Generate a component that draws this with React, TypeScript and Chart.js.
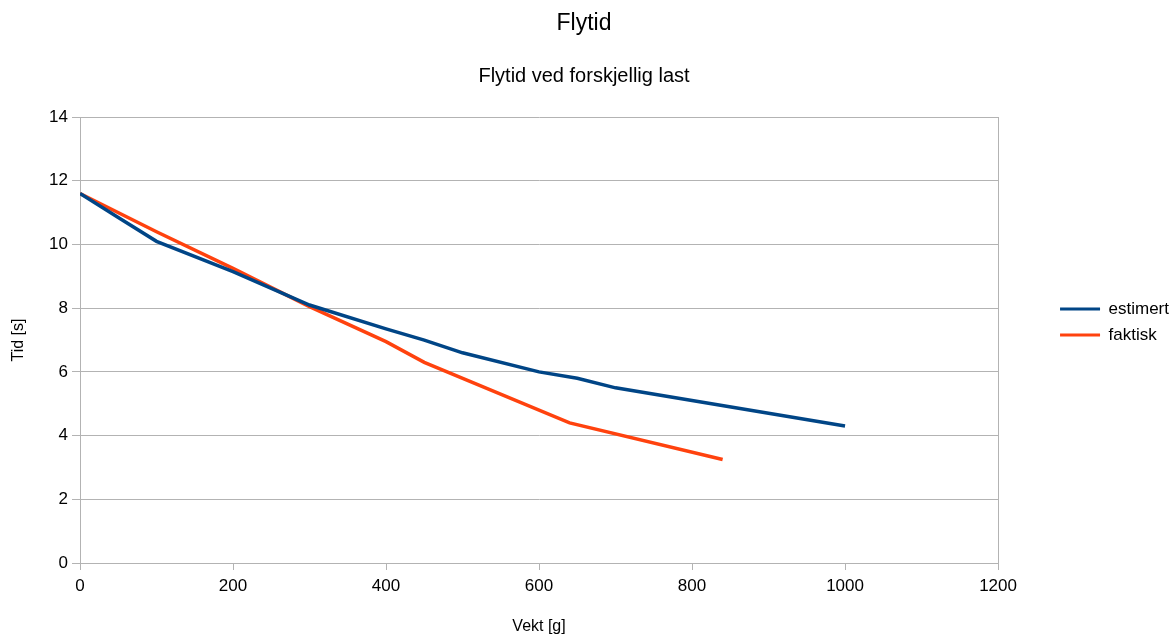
import React, { useEffect, useRef } from 'react';
import { Chart, registerables } from 'chart.js';

Chart.register(...registerables);

const estimertX = [0, 50, 100, 200, 300, 400, 450, 500, 600, 650, 700, 800, 1000];
const estimertY = [11.6, 10.85, 10.1, 9.15, 8.1, 7.35, 7.0, 6.6, 6.0, 5.8, 5.5, 5.1, 4.3];

const faktiskX = [0, 100, 200, 300, 400, 450, 640, 840];
const faktiskY = [11.6, 10.4, 9.25, 8.05, 6.95, 6.3, 4.4, 3.25];

const seriesLabels = ['estimert', 'faktisk'];
const titleText = 'Flytid';
const subtitleText = 'Flytid ved forskjellig last';
const xTitle = 'Vekt [g]';
const yTitle = 'Tid [s]';

const BLUE = '#004586';
const ORANGE = '#ff420e';
const GRID = '#b3b3b3';
const TEXT = '#000000';
const FAMILY = "'Liberation Sans', Arial, sans-serif";

export default function App() {
  const ref = useRef<HTMLCanvasElement>(null);

  useEffect(() => {
    if (!ref.current) return;
    Chart.defaults.font.family = FAMILY;
    const chart = new Chart(ref.current, {
      type: 'line',
      data: {
        datasets: [
          {
            label: seriesLabels[0],
            data: estimertX.map((x, i) => ({ x, y: estimertY[i] })),
            borderColor: BLUE,
            backgroundColor: BLUE,
            borderWidth: 3.5,
            pointRadius: 0,
            tension: 0,
          },
          {
            label: seriesLabels[1],
            data: faktiskX.map((x, i) => ({ x, y: faktiskY[i] })),
            borderColor: ORANGE,
            backgroundColor: ORANGE,
            borderWidth: 3.5,
            pointRadius: 0,
            tension: 0,
          },
        ],
      },
      options: {
        animation: false,
        responsive: true,
        maintainAspectRatio: false,
        layout: { padding: { left: -11, right: -4 } },
        plugins: {
          title: {
            display: true,
            text: titleText,
            color: TEXT,
            font: { family: FAMILY, size: 23, weight: 'normal' },
            padding: { top: 10, bottom: 0 },
          },
          subtitle: {
            display: true,
            text: subtitleText,
            color: TEXT,
            font: { family: FAMILY, size: 20, weight: 'normal' },
            padding: { top: 27, bottom: 28.5 },
          },
          legend: {
            position: 'right',
            align: 'center',
            title: {
              display: true,
              text: '',
              padding: 0,
              font: { family: FAMILY, size: 10, lineHeight: 1 },
            },
            labels: {
              boxWidth: 40,
              boxHeight: 3,
              padding: 9,
              color: TEXT,
              font: { family: FAMILY, size: 17 },
              generateLabels: (c: any) =>
                (Chart.defaults.plugins.legend.labels as any)
                  .generateLabels(c)
                  .map((l: any) => ({ ...l, lineWidth: 0 })),
            },
          },
          tooltip: { enabled: false },
        },
        scales: {
          x: {
            type: 'linear',
            min: 0,
            max: 1200,
            ticks: {
              stepSize: 200,
              color: TEXT,
              font: { family: FAMILY, size: 17 },
              padding: 6,
              maxRotation: 0,
              callback: (v: any) => String(v),
            },
            grid: { drawOnChartArea: false, tickLength: 7, color: GRID },
            border: { color: GRID },
            title: {
              display: true,
              text: xTitle,
              color: TEXT,
              font: { family: FAMILY, size: 16 },
              padding: { top: 0, bottom: -2 },
            },
            afterFit: (s: any) => {
              s.height = 71;
            },
          },
          y: {
            type: 'linear',
            min: 0,
            max: 14,
            ticks: {
              stepSize: 2,
              color: TEXT,
              font: { family: FAMILY, size: 17 },
              padding: 4,
              callback: (v: any) => String(v),
            },
            grid: { color: GRID, tickLength: 8 },
            border: { color: GRID },
            title: {
              display: true,
              text: yTitle,
              color: TEXT,
              font: { family: FAMILY, size: 16 },
              padding: { top: 20, bottom: 0 },
            },
            afterFit: (s: any) => {
              s.width = 91;
            },
          },
          yr: {
            type: 'linear',
            position: 'right',
            display: true,
            ticks: { display: false },
            grid: { display: false },
            border: { display: true, color: GRID },
            afterFit: (s: any) => {
              s.width = 53;
            },
          },
        },
      } as any,
    });
    return () => chart.destroy();
  }, []);

  return (
    <div style={{ position: 'absolute', left: 0, top: 0, width: 1175, height: 634 }}>
      <canvas ref={ref} />
    </div>
  );
}
